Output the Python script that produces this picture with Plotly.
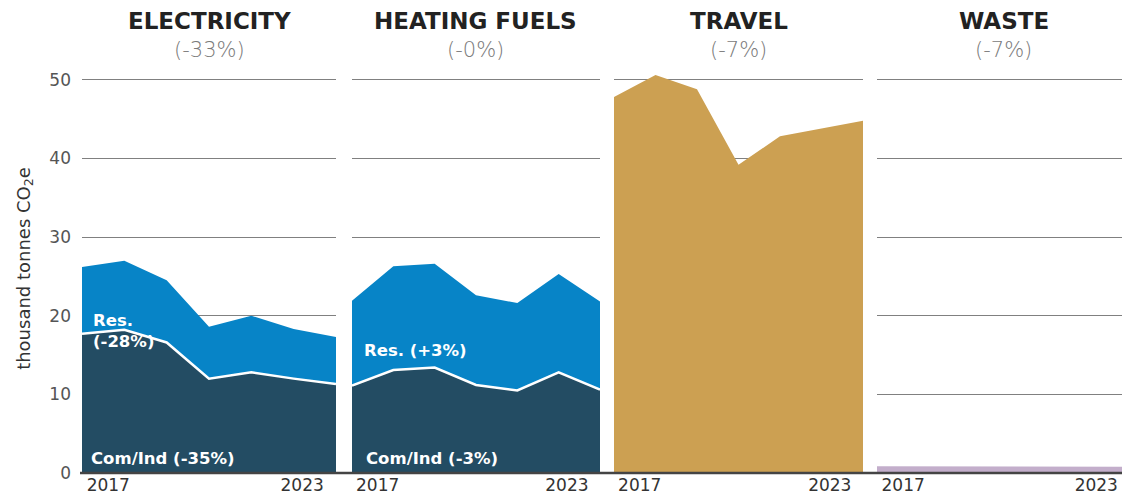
import plotly.graph_objects as go

years = [2017, 2018, 2019, 2020, 2021, 2022, 2023]

elec_com = [17.7, 18.2, 16.6, 12.0, 12.8, 12.0, 11.3]
elec_res = [8.5, 8.8, 7.9, 6.6, 7.2, 6.3, 6.0]
heat_com = [11.1, 13.1, 13.4, 11.2, 10.5, 12.8, 10.6]
heat_res = [10.8, 13.2, 13.2, 11.4, 11.1, 12.5, 11.2]
travel = [47.8, 50.6, 48.8, 39.2, 42.8, 43.8, 44.8]
waste = [0.85, 0.83, 0.82, 0.76, 0.80, 0.79, 0.79]

panel_titles = ["ELECTRICITY", "HEATING FUELS", "TRAVEL", "WASTE"]
panel_changes = ["(-33%)", "(-0%)", "(-7%)", "(-7%)"]
tick_labels = ["2017", "2023"]
y_ticks = [0, 10, 20, 30, 40, 50]

C_COM = "#234c63"
C_RES = "#0784c7"
C_TRAVEL = "#cca052"
C_WASTE = "#c3aecb"
FONT = "DejaVu Sans"

# page has an 8px body margin; work in page pixels and convert
OFF = 8
PAGE_W, PAGE_H = 1130, 503
W, H = PAGE_W - OFF, PAGE_H - 2 * OFF
PLOT_L, PLOT_R, PLOT_T, PLOT_B = 80, 1130, 64, 473  # page px
ML = PLOT_L - OFF
MR = (W + OFF) - PLOT_R
MT = PLOT_T - OFF
MB = (H + OFF) - PLOT_B
PW = PLOT_R - PLOT_L
PH = PLOT_B - PLOT_T

panels_px = [(82, 336), (352, 600), (614, 863), (877, 1130)]
domains = [((a - PLOT_L) / PW, (b - PLOT_L) / PW) for a, b in panels_px]

fig = go.Figure()

def add(trace, i):
    trace.update(xaxis="x" if i == 0 else f"x{i+1}", yaxis="y" if i == 0 else f"y{i+1}")
    fig.add_trace(trace)

add(go.Scatter(x=years, y=elec_com, stackgroup="e", mode="lines",
               line=dict(color="white", width=2.5), fillcolor=C_COM, name="Com/Ind"), 0)
add(go.Scatter(x=years, y=elec_res, stackgroup="e", mode="lines",
               line=dict(color=C_RES, width=0), fillcolor=C_RES, name="Res."), 0)
add(go.Scatter(x=years, y=heat_com, stackgroup="h", mode="lines",
               line=dict(color="white", width=2.5), fillcolor=C_COM, name="Com/Ind"), 1)
add(go.Scatter(x=years, y=heat_res, stackgroup="h", mode="lines",
               line=dict(color=C_RES, width=0), fillcolor=C_RES, name="Res."), 1)
add(go.Scatter(x=years, y=travel, stackgroup="t", mode="lines",
               line=dict(color=C_TRAVEL, width=0), fillcolor=C_TRAVEL, name="Travel"), 2)
add(go.Scatter(x=years, y=waste, stackgroup="w", mode="lines",
               line=dict(color=C_WASTE, width=0), fillcolor=C_WASTE, name="Waste"), 3)

layout = dict(
    width=W, height=H,
    margin=dict(l=ML, r=MR, t=MT, b=MB, autoexpand=False),
    paper_bgcolor="white", plot_bgcolor="white",
    showlegend=False,
    font=dict(family=FONT, color="#333"),
)

for i in range(4):
    xs = "" if i == 0 else str(i + 1)
    layout[f"xaxis{xs}"] = dict(
        domain=list(domains[i]), range=[years[0], years[-1]],
        tickvals=[years[0] + 0.62, years[-1] - 0.8], ticktext=tick_labels,
        showgrid=False, zeroline=False, showline=False, ticks="",
        tickfont=dict(size=17, color="#333", family=FONT), anchor="y" if i == 0 else f"y{i+1}",
        fixedrange=True, automargin=False,
    )
    layout[f"yaxis{xs}"] = dict(
        range=[0, 52], tickvals=y_ticks, showgrid=True, gridcolor="#808080", gridwidth=1,
        zeroline=False, showline=False, ticks="",
        showticklabels=(i == 0),
        tickfont=dict(size=17, color="#555", family=FONT),
        anchor="x" if i == 0 else f"x{i+1}",
        ticklabelstandoff=10, automargin=False,
    )
layout["yaxis"]["title"] = dict(text="thousand tonnes CO<sub>2</sub>e",
                                font=dict(size=18, color="#333", family=FONT), standoff=14)

fig.update_layout(**layout)

def py(px):
    return (PLOT_B - px) / PH

def pxx(px):
    return (px - PLOT_L) / PW

for i in range(4):
    cx = (domains[i][0] + domains[i][1]) / 2
    fig.add_annotation(x=cx, y=py(21), xref="paper", yref="paper", showarrow=False,
                       text=f"<b>{panel_titles[i]}</b>", font=dict(size=23, color="#222", family=FONT),
                       xanchor="center", yanchor="middle")
    fig.add_annotation(x=cx, y=py(50), xref="paper", yref="paper", showarrow=False,
                       text=panel_changes[i], font=dict(size=21, color="#7a7a7a", family=FONT, weight=200),
                       xanchor="center", yanchor="middle")

labels = [
    (91, 331, "<b>Res.<br>(-28%)</b>"),
    (89, 458, "<b>Com/Ind (-35%)</b>"),
    (362, 350, "<b>Res. (+3%)</b>"),
    (364, 458, "<b>Com/Ind (-3%)</b>"),
]
for x0, y0, t in labels:
    fig.add_annotation(x=pxx(x0), y=py(y0), xref="paper", yref="paper", showarrow=False,
                       text=t, align="left", xanchor="left", yanchor="middle",
                       font=dict(size=16.5, color="white", family=FONT))

fig.add_shape(type="line", xref="paper", yref="paper", x0=0, x1=1, y0=0, y1=0,
              line=dict(color="#444", width=2.5), layer="above")

fig.write_html("out.html")
